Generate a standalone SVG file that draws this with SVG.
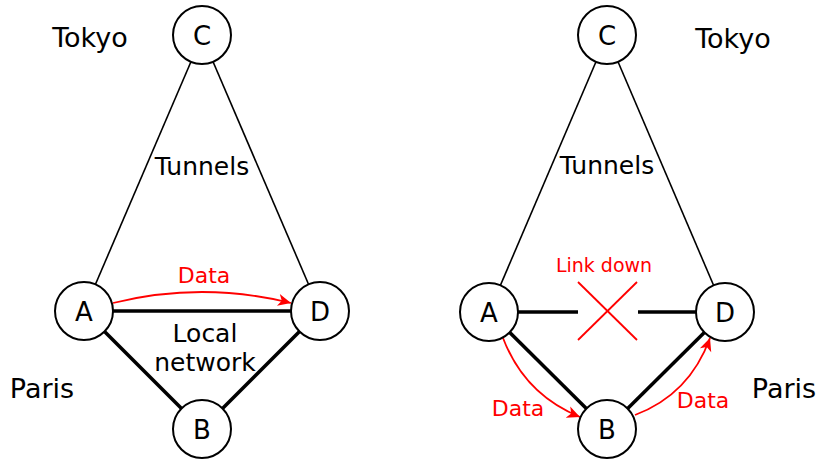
<svg xmlns="http://www.w3.org/2000/svg" width="819" height="459" viewBox="0 0 819 459">
  <style>
    text { font-family: "DejaVu Sans", "Liberation Sans", sans-serif; text-anchor: middle; }
    .place { font-size: 27px; fill: #000; }
    .lbl { font-size: 25px; fill: #000; }
    .nodelbl { font-size: 26px; fill: #000; }
    .red { font-size: 22px; fill: #ff0000; }
    .small { font-size: 19px; fill: #ff0000; }
    .node circle { fill: #fff; stroke: #000; stroke-width: 2; }
    .tunnel { stroke: #000; stroke-width: 1.6; fill: none; }
    .lan { stroke: #000; stroke-width: 3.5; fill: none; }
    .flow { stroke: #ff0000; stroke-width: 1.8; fill: none; marker-end: url(#arrow); }
    .cross { stroke: #ff0000; stroke-width: 1.8; fill: none; }
  </style>
  <defs>
    <marker id="arrow" markerUnits="userSpaceOnUse" markerWidth="16" markerHeight="14" viewBox="-14 -7 16 14" refX="0" refY="0" orient="auto">
      <path d="M0,0 L-13,-6 L-9.5,0 L-13,6 Z" fill="#ff0000"/>
    </marker>
  </defs>

  <!-- connectors -->
  <g id="connectors">
    <!-- left network -->
    <line class="tunnel" x1="202" y1="36" x2="84" y2="311"/>
    <line class="tunnel" x1="202" y1="36" x2="320" y2="311"/>
    <line class="lan" x1="84" y1="311" x2="320" y2="311"/>
    <line class="lan" x1="84" y1="311" x2="202" y2="429"/>
    <line class="lan" x1="320" y1="311" x2="202" y2="429"/>
    <path class="flow" d="M113,303 Q202,281 291,303"/>

    <!-- right network -->
    <line class="tunnel" x1="607" y1="36" x2="489" y2="312"/>
    <line class="tunnel" x1="607" y1="36" x2="725" y2="312"/>
    <line class="lan" x1="489" y1="312" x2="578" y2="312"/>
    <line class="lan" x1="638" y1="312" x2="725" y2="312"/>
    <line class="lan" x1="489" y1="312" x2="607" y2="429"/>
    <line class="lan" x1="725" y1="312" x2="607" y2="429"/>
    <line class="cross" x1="578" y1="282" x2="637" y2="340"/>
    <line class="cross" x1="637" y1="282" x2="578" y2="340"/>
    <path class="flow" d="M503,338 Q524.5,394.5 580,417"/>
    <path class="flow" d="M635,415 Q689.5,394.5 710,338"/>
  </g>

  <!-- left nodes -->
  <g id="left-C" class="node"><circle cx="202" cy="35" r="29"/><text class="nodelbl" x="202" y="45">C</text></g>
  <g id="left-A" class="node"><circle cx="84" cy="311" r="29"/><text class="nodelbl" x="84" y="321">A</text></g>
  <g id="left-D" class="node"><circle cx="320" cy="311" r="29"/><text class="nodelbl" x="320" y="321">D</text></g>
  <g id="left-B" class="node"><circle cx="202" cy="429" r="29"/><text class="nodelbl" x="202" y="439">B</text></g>

  <!-- right nodes -->
  <g id="right-C" class="node"><circle cx="607" cy="35" r="29"/><text class="nodelbl" x="607" y="45">C</text></g>
  <g id="right-A" class="node"><circle cx="489" cy="312" r="29"/><text class="nodelbl" x="489" y="322">A</text></g>
  <g id="right-D" class="node"><circle cx="725" cy="312" r="29"/><text class="nodelbl" x="725" y="322">D</text></g>
  <g id="right-B" class="node"><circle cx="607" cy="429" r="29"/><text class="nodelbl" x="607" y="439">B</text></g>

  <!-- labels -->
  <g id="labels">
    <text class="place" x="90" y="47">Tokyo</text>
    <text class="place" x="42" y="398">Paris</text>
    <text class="lbl" x="202" y="175">Tunnels</text>
    <text class="lbl" x="205" y="342">Local</text>
    <text class="lbl" x="205" y="371">network</text>
    <text class="red" x="204" y="283">Data</text>

    <text class="place" x="733" y="48">Tokyo</text>
    <text class="place" x="784" y="398">Paris</text>
    <text class="lbl" x="607" y="174">Tunnels</text>
    <text class="small" x="604" y="272">Link down</text>
    <text class="red" x="518" y="416">Data</text>
    <text class="red" x="703" y="408">Data</text>
  </g>
</svg>
